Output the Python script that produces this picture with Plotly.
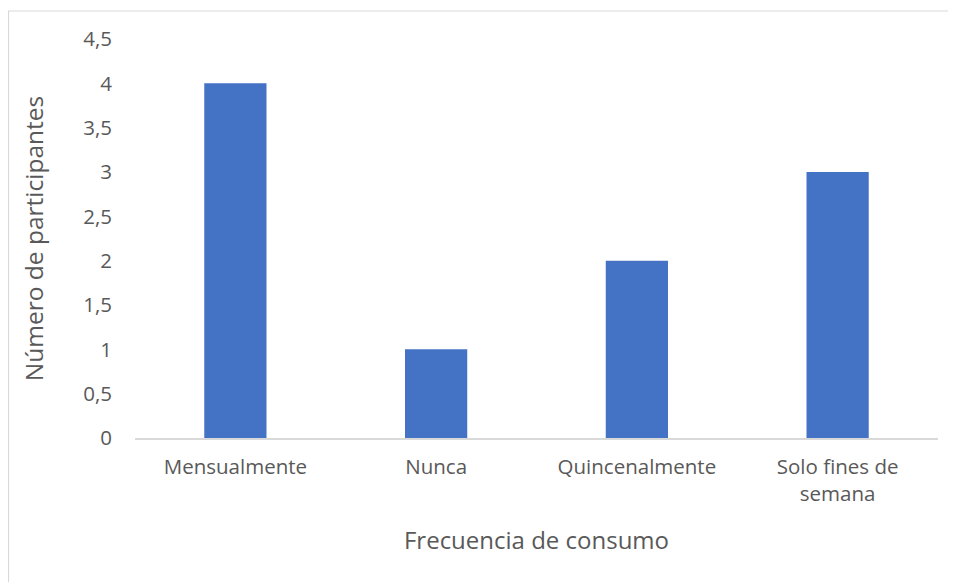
import plotly.graph_objects as go

categories = ["Mensualmente", "Nunca", "Quincenalmente", "Solo fines de<br>semana"]
values = [4, 1, 2, 3]
tick_vals = [0, 0.5, 1, 1.5, 2, 2.5, 3, 3.5, 4, 4.5]
tick_text = ["0", "0,5", "1", "1,5", "2", "2,5", "3", "3,5", "4", "4,5"]

FONT = "Open Sans"
GRAY = "#595959"

fig = go.Figure(go.Bar(x=categories, y=values, marker=dict(color="#4472C4", line=dict(width=0)), width=0.31))

# page has 8px body margin; compensate
OFF = 8
W, H = 956 - OFF, 582 - OFF
L, R, T, B = 135 - OFF, 18, 39 - OFF, 144
pw, ph = W - L - R, H - T - B

fig.update_layout(
    width=W, height=H,
    margin=dict(l=L, r=R, t=T, b=B, pad=0),
    paper_bgcolor="white", plot_bgcolor="white",
    font=dict(family=FONT, color=GRAY, size=21),
    showlegend=False,
    xaxis=dict(
        showline=True, linecolor="#D9D9D9", linewidth=1.5,
        ticks="", showgrid=False,
        tickfont=dict(size=20.5, color=GRAY),
        ticklabelstandoff=10,
        title=dict(text="Frecuencia de consumo", font=dict(size=24, color=GRAY), standoff=26),
    ),
    yaxis=dict(
        range=[0, 4.5], tickvals=tick_vals, ticktext=tick_text,
        showgrid=False, showline=False, zeroline=False, ticks="",
        tickfont=dict(size=20.5, color=GRAY),
        ticklabelstandoff=22,
        title=dict(text="Número de participantes", font=dict(size=24.5, color=GRAY), standoff=32),
    ),
    shapes=[dict(
        type="rect", xref="paper", yref="paper",
        x0=(8.5 - OFF - L) / pw, x1=(W + 5 - L) / pw,
        y0=(H - B - (H + 5)) / ph, y1=(H - B - (11 - OFF)) / ph,
        line=dict(color="#D9D9D9", width=1.2), fillcolor="rgba(0,0,0,0)", layer="below",
    )],
)

fig.write_html("out.html")
